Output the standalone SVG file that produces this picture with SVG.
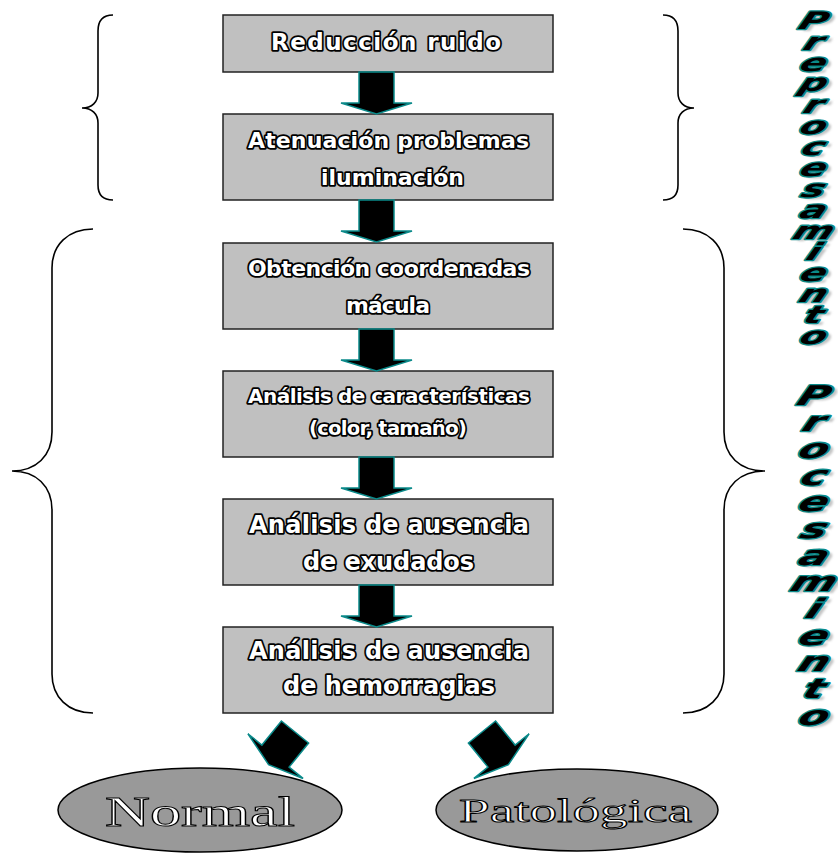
<svg xmlns="http://www.w3.org/2000/svg" width="838" height="853" viewBox="0 0 838 853">
<style>
.box{fill:#c0c0c0;stroke:#222;stroke-width:1.5}
.lbl{font-family:"DejaVu Sans","Verdana",sans-serif;font-weight:bold;fill:#fff;stroke:#000;stroke-width:3.6;paint-order:stroke;stroke-linejoin:round}
.brace{fill:none;stroke:#000;stroke-width:1.6}
.arr{fill:#000;stroke:#0a8a8a;stroke-width:1.5;stroke-linejoin:miter}
.ell{fill:#999;stroke:#000;stroke-width:1.5}
.etxt{font-family:"Liberation Serif","Times New Roman",serif;fill:#fff;stroke:#000;stroke-width:1}
.v{font-family:"DejaVu Sans",sans-serif;font-weight:bold;font-style:italic;text-anchor:middle}
</style>
<defs>
<path id="arrow" d="M-17.5 0 L17.5 0 L17.5 31 L35.5 31 L0 42 L-35.5 31 L-17.5 31 Z"/>
<filter id="blur" x="-20%" y="-20%" width="140%" height="140%"><feGaussianBlur stdDeviation="1.2"/></filter>
<g id="preL" class="v" font-size="24">
<text transform="translate(811,29) scale(1.6,1) skewX(-14)">P</text>
<text transform="translate(811,50) scale(1.6,1) skewX(-14)">r</text>
<text transform="translate(811,71) scale(1.6,1) skewX(-14)">e</text>
<text transform="translate(811,91) scale(1.6,1) skewX(-14)">p</text>
<text transform="translate(811,113) scale(1.6,1) skewX(-14)">r</text>
<text transform="translate(811,134) scale(1.6,1) skewX(-14)">o</text>
<text transform="translate(811,155) scale(1.6,1) skewX(-14)">c</text>
<text transform="translate(811,176) scale(1.6,1) skewX(-14)">e</text>
<text transform="translate(811,197) scale(1.6,1) skewX(-14)">s</text>
<text transform="translate(811,218) scale(1.6,1) skewX(-14)">a</text>
<text transform="translate(811,239) scale(1.6,1) skewX(-14)">m</text>
<text transform="translate(811,260) scale(1.6,1) skewX(-14)">i</text>
<text transform="translate(811,281) scale(1.6,1) skewX(-14)">e</text>
<text transform="translate(811,302) scale(1.6,1) skewX(-14)">n</text>
<text transform="translate(811,323) scale(1.6,1) skewX(-14)">t</text>
<text transform="translate(811,344) scale(1.6,1) skewX(-14)">o</text>
</g>
<g id="proL" class="v" font-size="27">
<text transform="translate(811,405) scale(1.6,1) skewX(-14)">P</text>
<text transform="translate(811,431) scale(1.6,1) skewX(-14)">r</text>
<text transform="translate(811,458) scale(1.6,1) skewX(-14)">o</text>
<text transform="translate(811,485) scale(1.6,1) skewX(-14)">c</text>
<text transform="translate(811,511) scale(1.6,1) skewX(-14)">e</text>
<text transform="translate(811,538) scale(1.6,1) skewX(-14)">s</text>
<text transform="translate(811,565) scale(1.6,1) skewX(-14)">a</text>
<text transform="translate(811,591) scale(1.6,1) skewX(-14)">m</text>
<text transform="translate(811,618) scale(1.6,1) skewX(-14)">i</text>
<text transform="translate(811,645) scale(1.6,1) skewX(-14)">e</text>
<text transform="translate(811,671) scale(1.6,1) skewX(-14)">n</text>
<text transform="translate(811,698) scale(1.6,1) skewX(-14)">t</text>
<text transform="translate(811,725) scale(1.6,1) skewX(-14)">o</text>
</g>
</defs>

<g id="braces">
<path class="brace" d="M113 15 C103 15 98 21 98 31 L98 93 C98 102 92 108 82 108 C92 108 98 114 98 123 L98 185 C98 195 103 200 113 200"/>
<path class="brace" d="M663 15 C673 15 678 21 678 31 L678 93 C678 102 684 108 694 108 C684 108 678 114 678 123 L678 185 C678 195 673 200 663 200"/>
<path class="brace" d="M93 229 C68 229 52 245 52 268 L52 432 C52 456 36 471 12 471 C36 471 52 486 52 510 L52 674 C52 697 68 713 93 713"/>
<path class="brace" d="M683 229 C708 229 724 245 724 268 L724 432 C724 456 740 471 765 471 C740 471 724 486 724 510 L724 674 C724 697 708 713 683 713"/>
</g>

<g id="n1"><rect class="box" x="223" y="15" width="330" height="57"/>
<text class="lbl" x="271" y="50" font-size="23" textLength="230">Reducción ruido</text></g>
<g id="n2"><rect class="box" x="223" y="114" width="330" height="86"/>
<text class="lbl" x="248" y="148" font-size="22" textLength="281">Atenuación problemas</text>
<text class="lbl" x="321" y="185" font-size="22" textLength="143">iluminación</text></g>
<g id="n3"><rect class="box" x="223" y="243" width="330" height="86"/>
<text class="lbl" x="248" y="276" font-size="22" textLength="282">Obtención coordenadas</text>
<text class="lbl" x="346" y="313" font-size="22" textLength="84">mácula</text></g>
<g id="n4"><rect class="box" x="223" y="371" width="330" height="86"/>
<text class="lbl" x="248" y="403" font-size="20" textLength="282">Análisis de características</text>
<text class="lbl" x="309" y="435" font-size="20" textLength="158">(color, tamaño)</text></g>
<g id="n5"><rect class="box" x="223" y="499" width="330" height="86"/>
<text class="lbl" x="249" y="533" font-size="24" textLength="280">Análisis de ausencia</text>
<text class="lbl" x="303" y="570" font-size="24" textLength="171">de exudados</text></g>
<g id="n6"><rect class="box" x="223" y="627" width="330" height="86"/>
<text class="lbl" x="249" y="659" font-size="24" textLength="280">Análisis de ausencia</text>
<text class="lbl" x="283" y="694" font-size="24" textLength="212">de hemorragias</text></g>

<g id="normal"><ellipse class="ell" cx="200" cy="810" rx="142" ry="42"/>
<text class="etxt" x="105" y="826" font-size="42" textLength="190" lengthAdjust="spacingAndGlyphs">Normal</text></g>
<g id="patologica"><ellipse class="ell" cx="577" cy="810" rx="141" ry="41"/>
<text class="etxt" x="459" y="822" font-size="34" textLength="233" lengthAdjust="spacingAndGlyphs">Patológica</text></g>

<g id="connectors">
<use href="#arrow" class="arr" transform="translate(376.5,72)"/>
<use href="#arrow" class="arr" transform="translate(376.5,200)"/>
<use href="#arrow" class="arr" transform="translate(376.5,329)"/>
<use href="#arrow" class="arr" transform="translate(376.5,457)"/>
<use href="#arrow" class="arr" transform="translate(376.5,585)"/>
<use href="#arrow" class="arr" transform="translate(295,732) rotate(39)"/>
<use href="#arrow" class="arr" transform="translate(482,732) rotate(-39)"/>
</g>

<g id="preprocesamiento">
<use href="#preL" fill="#c4c4c4" filter="url(#blur)" transform="translate(5,2)"/>
<use href="#preL" fill="#000" stroke="#0a8a8a" stroke-width="2.6" paint-order="stroke" stroke-linejoin="round"/>
</g>
<g id="procesamiento">
<use href="#proL" fill="#c4c4c4" filter="url(#blur)" transform="translate(5,2)"/>
<use href="#proL" fill="#000" stroke="#0a8a8a" stroke-width="2.6" paint-order="stroke" stroke-linejoin="round"/>
</g>
</svg>
